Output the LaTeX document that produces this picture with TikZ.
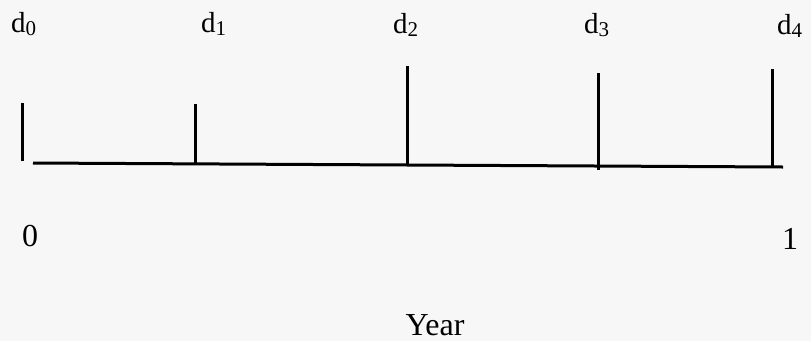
\documentclass[tikz,border=0pt]{standalone}
\usepackage{fontspec}
\setmainfont{Liberation Serif}
\definecolor{bg}{HTML}{F7F7F7}
\newcommand\dlab[1]{d\raisebox{-3pt}{\fontsize{21}{22}\selectfont #1}}
\begin{document}
\begin{tikzpicture}[x=1pt,y=-1pt,
  bar/.style={line width=3pt,black},
  axis/.style={line width=3pt,black},
  dtext/.style={inner sep=0pt,anchor=base west,font=\fontsize{29}{30}\selectfont},
  numtext/.style={inner sep=0pt,anchor=base,font=\fontsize{32}{34}\selectfont}]
\fill[bg] (0,0) rectangle (811,341);
\useasboundingbox (0,0) rectangle (811,341);
% axis
\coordinate (a0) at (33,163);
\coordinate (a1) at (783,167);
\draw[axis] (a0) -- (a1);
% bars
\coordinate (b0t) at (22,103); \coordinate (b0b) at (22,161);
\coordinate (b1t) at (195,104); \coordinate (b1b) at (195,163.5);
\coordinate (b2t) at (407,66);  \coordinate (b2b) at (407,165);
\coordinate (b3t) at (598,73);  \coordinate (b3b) at (598,170);
\coordinate (b4t) at (772,69);  \coordinate (b4b) at (772,168);
\foreach \i in {0,...,4}{\draw[bar] (b\i t) -- (b\i b);}
% labels
\node[dtext] (d0) at (11,32) {\dlab{0}};
\node[dtext] (d1) at (201,32) {\dlab{1}};
\node[dtext] (d2) at (393,33) {\dlab{2}};
\node[dtext] (d3) at (584,33) {\dlab{3}};
\node[dtext] (d4) at (777,34) {\dlab{4}};
\node[numtext] (n0) at (30,246) {0};
\node[numtext] (n1) at (790,249) {1};
\node[numtext] (yr) at (435,335) {Year};
\end{tikzpicture}
\end{document}
